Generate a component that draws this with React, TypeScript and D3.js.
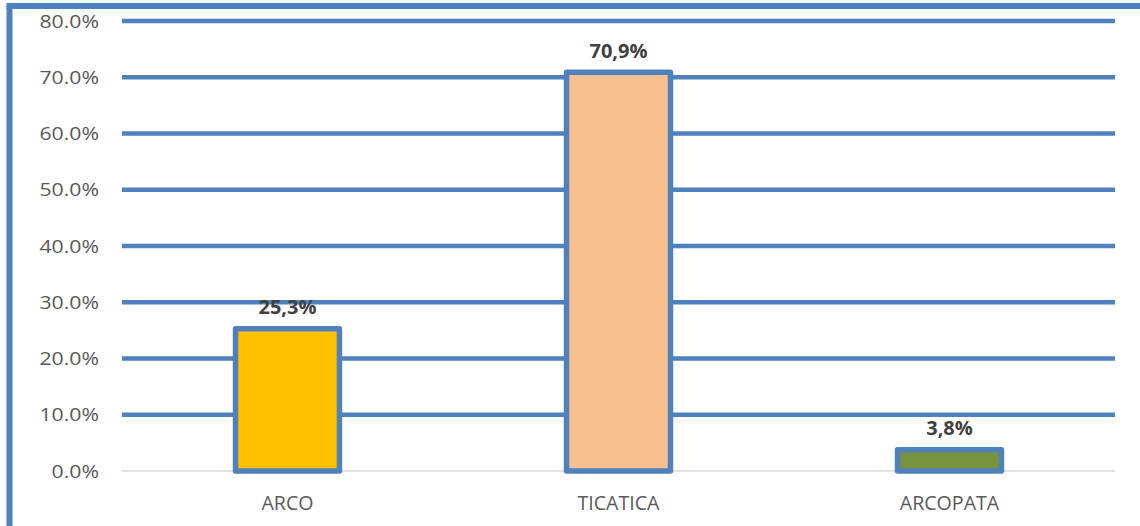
import React from "react";
import * as d3 from "d3";

const categories = ["ARCO", "TICATICA", "ARCOPATA"];
const values = [25.3, 70.9, 3.8];
const valueLabels = ["25,3%", "70,9%", "3,8%"];
const barColors = ["#FFC000", "#F8C08F", "#77933C"];
const yTicks = [0, 10, 20, 30, 40, 50, 60, 70, 80];

const W = 1140;
const H = 526;
const left = 122;
const right = 1115;
const top = 21;
const bottom = 471;
const blue = "#4F81BD";
const font = "'Open Sans', sans-serif";

export default function App() {
  const x = d3.scaleBand<string>().domain(categories).range([left, right]).paddingInner(0.686).paddingOuter(0.343);
  const y = d3.scaleLinear().domain([0, 80]).range([bottom, top]);
  const bw = x.bandwidth();
  return (
    <svg width={W} height={H} style={{ position: "absolute", left: 0, top: 0, background: "#fff" }}>
      <rect x={0} y={0} width={W} height={H} fill="#fff" />
      {/* frame */}
      <line x1={9.5} x2={9.5} y1={6} y2={H} stroke={blue} strokeWidth={6} />
      <line x1={6.5} x2={W} y1={6} y2={6} stroke={blue} strokeWidth={6} />
      {/* grid */}
      {yTicks.filter((t) => t > 0).map((t) => (
        <line key={t} x1={left} x2={right} y1={y(t)} y2={y(t)} stroke={blue} strokeWidth={4.5} />
      ))}
      <line x1={left} x2={right} y1={y(0)} y2={y(0)} stroke="#D9D9D9" strokeWidth={1.5} />
      {yTicks.map((t) => (
        <text
          key={t}
          transform={`translate(99,${y(t)}) scale(1.13,1)`}
          dy="0.35em"
          textAnchor="end"
          fontFamily={font}
          fontSize={18.8}
          fill="#595959"
        >
          {d3.format(".1f")(t)}%
        </text>
      ))}
      {/* bars */}
      {categories.map((c, i) => (
        <g key={c}>
          <rect
            x={x(c)!}
            y={y(values[i])}
            width={bw}
            height={y(0) - y(values[i])}
            fill={barColors[i]}
            stroke={blue}
            strokeWidth={5.5}
            strokeLinejoin="round"
          />
          <text x={x(c)! + bw / 2} y={y(values[i]) - 14.5} textAnchor="middle" fontFamily={font} fontWeight="bold" fontSize={20} fill="#404040">
            {valueLabels[i]}
          </text>
          <text x={x(c)! + bw / 2} y={509.5} textAnchor="middle" fontFamily={font} fontSize={19.6} fill="#595959">
            {c}
          </text>
        </g>
      ))}
    </svg>
  );
}
